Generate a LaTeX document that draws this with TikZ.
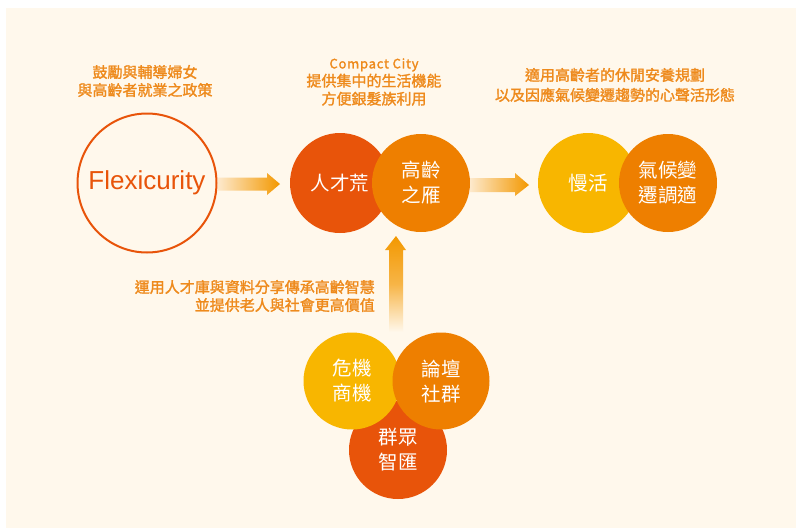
\documentclass[tikz,border=0pt]{standalone}
\usepackage{fontspec}
\usetikzlibrary{calc}
\setmainfont{Liberation Sans}
\newfontfamily\cjk{Noto Sans CJK TC}
\newfontfamily\cjkm[FakeBold=1.6]{Noto Sans CJK TC}
\newfontfamily\cjkls[LetterSpace=6,FakeBold=1.6]{Noto Sans CJK TC}
\definecolor{bgc}{HTML}{FFF8EC}
\definecolor{redo}{HTML}{E8540A}
\definecolor{oran}{HTML}{EE7F00}
\definecolor{yell}{HTML}{F8B600}
\definecolor{labc}{HTML}{EE8A1C}
\definecolor{arrc}{HTML}{F39800}
\definecolor{arrl}{HTML}{FDE9CC}
\tikzset{
  ball/.style={circle, minimum size=#1, inner sep=0pt, text=white, font=\cjk\fontsize{19.5}{25}\selectfont, align=center},
  lab/.style={text=labc, font=\cjkm\fontsize{15}{18}\selectfont, inner sep=0pt},
}
\begin{document}
\begin{tikzpicture}[x=1pt,y=-1pt]
\useasboundingbox (0,0) rectangle (796,528);
\fill[bgc] (6,8) rectangle (796,528);
% Flexicurity
\node[circle, draw=redo, line width=2pt, minimum size=139pt, inner sep=0pt, text=redo, font=\fontsize{26}{30}\selectfont] (flex) at (147,183) {Flexicurity};
% top row
\node[ball=100pt, fill=redo] (rencai) at (340,183) {人才荒};
\node[ball=98pt, fill=oran] (gaoling) at (421,183) {高齡\\之雁};
\node[ball=100pt, fill=yell] (manhuo) at (588,183) {慢活};
\node[ball=98pt, fill=oran] (qihou) at (668,183) {氣候變\\遷調適};
% bottom cluster
\node[ball=98pt, fill=redo] (qunzhong) at (398,450) {群眾\\智匯};
\node[ball=97pt, fill=yell] (weiji) at (352,381) {危機\\商機};
\node[ball=97pt, fill=oran] (luntan) at (441,381) {論壇\\社群};
% labels
\node[lab, align=center] (l1) at (145,81) {鼓勵與輔導婦女\\與高齡者就業之政策};
\node[lab, align=center] (l2) at (374,82) {{\cjkls\fontsize{13}{18}\selectfont Compact City}\\提供集中的生活機能\\方便銀髮族利用};
\node[lab, align=center, font=\cjkm\fontsize{15}{20}\selectfont] (l3) at (615,85) {適用高齡者的休閒安養規劃\\以及因應氣候變遷趨勢的心聲活形態};
\node[lab, align=right, anchor=east] (l4) at (375,296) {運用人才庫與資料分享傳承高齡智慧\\並提供老人與社會更高價值};
% arrows
\coordinate (a1s) at (218,184);
\coordinate (a1e) at (280,184);
\coordinate (a2s) at (470,185);
\coordinate (a2e) at (529,185);
\coordinate (a3s) at (396,332);
\coordinate (a3e) at (396,236);
\shade[left color=arrl, right color=arrc]
  ($(a1s)+(0,-6.5)$) -- ($(a1e)+(-13,-6.5)$) -- ($(a1e)+(-13,-11)$) -- (a1e)
  -- ($(a1e)+(-13,11)$) -- ($(a1e)+(-13,6.5)$) -- ($(a1s)+(0,6.5)$) -- cycle;
\shade[left color=arrl, right color=arrc]
  ($(a2s)+(0,-7)$) -- ($(a2e)+(-14,-7)$) -- ($(a2e)+(-14,-12)$) -- (a2e)
  -- ($(a2e)+(-14,11)$) -- ($(a2e)+(-14,7)$) -- ($(a2s)+(0,7)$) -- cycle;
\shade[bottom color=bgc, top color=arrc, middle color=arrc!70!bgc]
  ($(a3s)+(-7,0)$) -- ($(a3e)+(-7,14)$) -- ($(a3e)+(-11,14)$) -- (a3e)
  -- ($(a3e)+(10,14)$) -- ($(a3e)+(7,14)$) -- ($(a3s)+(7,0)$) -- cycle;
\end{tikzpicture}
\end{document}
